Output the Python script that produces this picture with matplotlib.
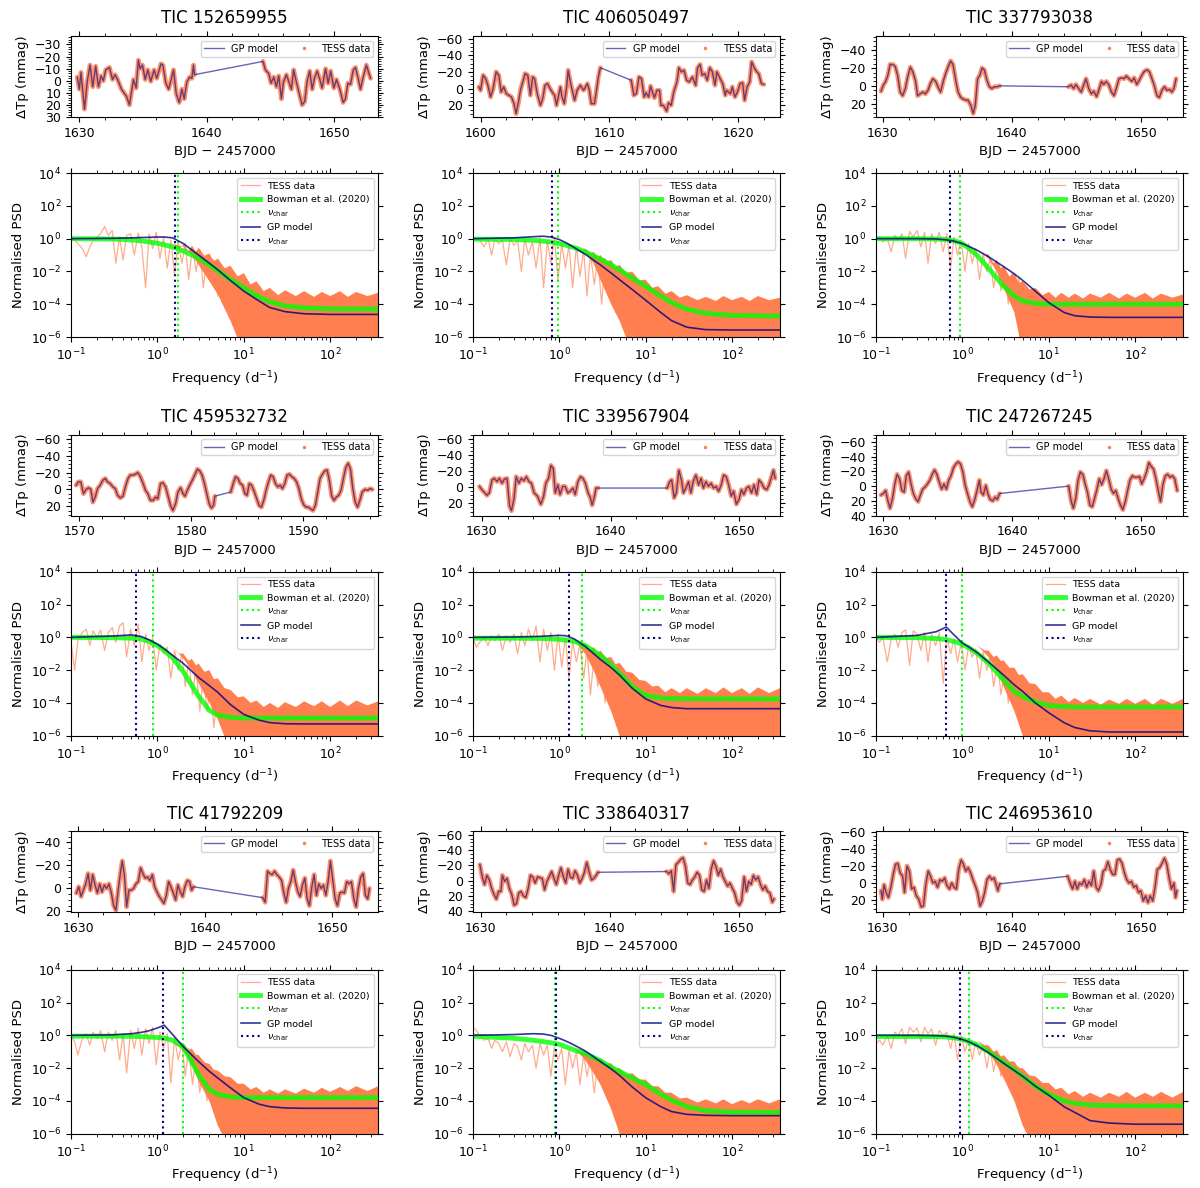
import numpy as np
import matplotlib.pyplot as plt
from matplotlib.lines import Line2D
from matplotlib.ticker import MultipleLocator, AutoMinorLocator, NullLocator

# ---------------- data ----------------
tic_names = ["TIC 152659955", "TIC 406050497", "TIC 337793038",
             "TIC 459532732", "TIC 339567904", "TIC 247267245",
             "TIC 41792209", "TIC 338640317", "TIC 246953610"]

# light curves: (BJD - 2457000, delta Tp in mmag)
lc_152659955 = [
    (1629.84, -3), (1630.0, 7), (1630.13, -7), (1630.4, 23.5), (1630.63, 0), (1630.84, -13), (1631.05, 5),
    (1631.28, -12), (1631.5, 5), (1631.7, -4), (1631.88, 0), (1632.07, -9), (1632.36, -11), (1632.6, -1),
    (1632.8, -5), (1633.0, -1), (1633.3, 7), (1633.7, 13), (1633.93, 20), (1634.24, -1), (1634.45, 6),
    (1634.63, -17), (1634.76, -10), (1634.95, -13), (1635.16, -1), (1635.37, -9), (1635.6, 0.5), (1635.86, -9),
    (1636.07, -2), (1636.4, -14), (1636.55, -13), (1636.78, 2), (1637.0, 7), (1637.2, -1), (1637.38, -9),
    (1637.6, 11), (1637.83, 18), (1638.04, 7), (1638.22, 15), (1638.43, 1), (1638.64, -3), (1638.82, -2),
    (1638.95, -13), (1639.03, -5),
    (1644.4, -16), (1644.58, -9), (1644.84, -6), (1645.03, 2), (1645.24, -3), (1645.45, 5), (1645.63, -4),
    (1645.84, 15), (1646.0, 1), (1646.23, -5), (1646.41, 0.5), (1646.62, 7), (1646.8, -9), (1647.0, 0.5),
    (1647.2, 9), (1647.46, 20), (1647.67, 17), (1647.85, 0.5), (1648.06, -8), (1648.25, 7), (1648.43, -2),
    (1648.64, -8), (1648.85, -1), (1649.03, 6), (1649.3, -10), (1649.5, 2), (1649.7, -8), (1649.95, 6),
    (1650.16, -1), (1650.42, 7), (1650.68, 18), (1650.86, 15), (1651.05, 2), (1651.26, 3), (1651.47, -9),
    (1651.65, -11), (1651.83, -3), (1652.04, 7), (1652.25, -3), (1652.5, -13), (1652.7, -6), (1652.83, -2)]

lc_406050497 = [
    (1599.87, -2), (1600.0, 2), (1600.2, -16), (1600.4, -12), (1600.57, -4), (1600.78, 10), (1600.98, 0),
    (1601.21, -20), (1601.42, -16), (1601.6, 4), (1601.8, -2), (1602.0, 6), (1602.2, 8), (1602.4, 10),
    (1602.6, 18), (1602.76, 30), (1602.95, 16), (1603.1, 2), (1603.46, -18), (1603.67, -16), (1603.87, 8),
    (1604.05, -14), (1604.2, -12), (1604.4, 6), (1604.65, 20), (1604.83, 12), (1605.0, -4), (1605.2, -6),
    (1605.4, 0), (1605.6, 5), (1605.75, 8), (1605.9, 20), (1606.2, -2), (1606.3, 8), (1606.5, 18),
    (1606.7, -4), (1606.8, -22), (1607.0, -6), (1607.3, 14), (1607.5, 2), (1607.75, -4), (1608.0, 2),
    (1608.3, -6), (1608.45, 2), (1608.6, 18), (1608.85, 18), (1609.0, 2), (1609.15, -14), (1609.3, -25),
    (1611.7, -10), (1611.9, 8), (1612.1, 6), (1612.3, -14), (1612.5, -12), (1612.7, 10), (1612.85, 5),
    (1613.05, 10), (1613.2, -3), (1613.5, 11), (1613.7, 2), (1613.9, 2), (1614.0, 20), (1614.2, 20),
    (1614.45, 27), (1614.6, 17), (1614.8, 20), (1615.0, 4), (1615.25, -8), (1615.4, -25), (1615.6, -20),
    (1615.8, -22), (1616.0, -10), (1616.2, -8), (1616.45, -14), (1616.7, -4), (1616.85, -25), (1617.05, -29),
    (1617.2, -16), (1617.4, -18), (1617.6, -10), (1617.8, -25), (1618.0, -20), (1618.2, -4), (1618.35, -20),
    (1618.6, -12), (1618.8, -6), (1619.0, 8), (1619.1, 2), (1619.4, 6), (1619.55, -2), (1619.75, 10),
    (1619.95, 4), (1620.15, -6), (1620.35, -7), (1620.5, 14), (1620.7, -2), (1620.9, -8), (1621.05, -32),
    (1621.25, -25), (1621.45, -20), (1621.6, -18), (1621.8, -6), (1622.0, -5)]

lc_337793038 = [
    (1629.87, 6), (1630.05, -1), (1630.23, -5), (1630.4, -12), (1630.57, -24), (1630.78, -24), (1630.96, -22),
    (1631.15, -12), (1631.35, 7), (1631.54, 11), (1631.75, 3), (1631.93, -10), (1632.14, -21), (1632.32, -16),
    (1632.53, -6), (1632.7, 11), (1632.9, 9), (1633.1, 7), (1633.3, 9), (1633.5, 5), (1633.7, -3),
    (1633.88, -8), (1634.1, -5), (1634.27, 1), (1634.48, 7), (1634.7, -6), (1634.87, -14), (1635.08, -22),
    (1635.26, -28), (1635.44, -24), (1635.65, -6), (1635.83, 7), (1636.04, 13), (1636.25, 15), (1636.43, 16),
    (1636.6, 16), (1636.82, 22), (1637.0, 31), (1637.16, 22), (1637.34, -8), (1637.52, -12), (1637.68, -20),
    (1637.86, -18), (1638.07, -6), (1638.25, 1), (1638.44, 3), (1638.65, 1), (1638.85, 1), (1639.04, 0),
    (1644.38, 1), (1644.58, -1), (1644.77, 3), (1644.95, -1.5), (1645.16, 3), (1645.36, 7), (1645.55, -1),
    (1645.73, -8), (1645.94, 3), (1646.15, 9), (1646.33, 6), (1646.54, 12), (1646.72, 5), (1646.93, -5),
    (1647.1, -1.5), (1647.3, -5), (1647.5, -1), (1647.7, 7), (1647.9, 11), (1648.07, 3), (1648.28, -8),
    (1648.5, -9), (1648.67, -8), (1648.85, -11), (1649.06, -8), (1649.27, -5), (1649.45, -9), (1649.66, -1.5),
    (1649.84, -6), (1650.05, -12), (1650.23, -16), (1650.44, -18), (1650.63, -16), (1650.83, -8), (1651.0, -1),
    (1651.22, 11), (1651.4, 13), (1651.6, 5), (1651.8, 1), (1652.0, 5), (1652.2, 4), (1652.37, 7),
    (1652.53, 3), (1652.7, -8)]

lc_459532732 = [
    (1569.7, -5), (1569.91, -9), (1570.12, -9), (1570.36, 5), (1570.6, 0), (1570.81, -2), (1571.02, 0),
    (1571.2, 15), (1571.41, 9), (1571.62, -1), (1571.86, -5), (1572.1, -11), (1572.31, -13), (1572.51, -9),
    (1572.75, -7), (1572.99, -3), (1573.2, -1), (1573.41, 7), (1573.65, 10), (1573.89, 8), (1574.1, -3),
    (1574.34, -13), (1574.55, -17), (1574.79, -17), (1575.0, -18), (1575.21, -20), (1575.45, -15), (1575.69, -7),
    (1575.9, 1), (1576.11, 5), (1576.35, 13), (1576.59, 13), (1576.8, 9), (1577.0, 11), (1577.25, -7),
    (1577.46, -8), (1577.7, -3), (1577.9, 7), (1578.14, 19), (1578.35, 25), (1578.59, 17), (1578.8, 3),
    (1579.04, -2), (1579.25, 5), (1579.43, 8), (1579.64, 1), (1579.85, -5), (1580.09, -11), (1580.3, -17),
    (1580.54, -24), (1580.75, -22), (1580.96, -17), (1581.17, -7), (1581.38, 5), (1581.59, 17), (1581.8, 22),
    (1581.98, 19), (1582.1, 8),
    (1583.53, 3), (1583.74, -7), (1583.95, -15), (1584.16, -13), (1584.37, -7), (1584.58, -5), (1584.79, 5),
    (1584.97, 7), (1585.18, -7), (1585.39, -5), (1585.63, 3), (1585.84, 11), (1586.05, 19), (1586.26, 21),
    (1586.47, 13), (1586.68, 1), (1586.89, -9), (1587.1, -17), (1587.31, -15), (1587.51, -7), (1587.72, -3),
    (1587.93, -5), (1588.14, -1), (1588.35, -7), (1588.56, -17), (1588.77, -18), (1588.98, -15), (1589.19, -13),
    (1589.4, -9), (1589.61, -1), (1589.82, 11), (1590.03, 18), (1590.24, 21), (1590.45, 21), (1590.66, 23),
    (1590.87, 25), (1591.08, 19), (1591.29, 3), (1591.5, -13), (1591.71, -18), (1591.92, -22), (1592.13, -23),
    (1592.34, -10), (1592.54, 8), (1592.75, 13), (1592.96, 9), (1593.17, 7), (1593.38, 1), (1593.59, -13),
    (1593.8, -26), (1594.01, -31), (1594.22, -24), (1594.43, -1), (1594.64, 15), (1594.85, 21), (1595.06, 13),
    (1595.27, 3), (1595.51, 0), (1595.75, 1), (1595.96, -1), (1596.17, 0)]

lc_339567904 = [
    (1629.82, -1), (1630.0, 3), (1630.18, 6), (1630.4, 10), (1630.58, 7), (1630.79, -9), (1630.97, -11),
    (1631.18, -7), (1631.36, -11), (1631.57, -5), (1631.75, -10), (1631.96, -11), (1632.15, 23), (1632.3, 29),
    (1632.49, 15), (1632.67, -13), (1632.88, -5), (1633.06, -11), (1633.27, -8), (1633.46, -13), (1633.66, -7),
    (1633.85, -5), (1634.06, 7), (1634.32, 11), (1634.58, 21), (1634.8, 11), (1634.97, -5), (1635.18, -11),
    (1635.37, -27), (1635.55, -23), (1635.7, 7), (1635.9, -3), (1636.07, 9), (1636.28, -1), (1636.47, -1),
    (1636.68, 7), (1636.86, 5), (1637.07, 1), (1637.25, 9), (1637.46, -7), (1637.67, -13), (1637.85, -11),
    (1638.04, -5), (1638.25, 7), (1638.43, 13), (1638.56, 22), (1638.72, 13), (1638.87, 1), (1639.03, 1),
    (1644.4, 1), (1644.58, -7), (1644.74, -9), (1644.93, 13), (1645.1, 7), (1645.3, -21), (1645.5, -9),
    (1645.65, 7), (1645.84, 1), (1646.05, -7), (1646.23, 7), (1646.41, -7), (1646.62, -15), (1646.83, -3),
    (1647.02, -11), (1647.2, 1), (1647.4, -7), (1647.6, -1), (1647.8, -5), (1647.98, 1), (1648.19, -1),
    (1648.38, 5), (1648.59, -3), (1648.77, -15), (1648.98, -13), (1649.16, -3), (1649.37, 11), (1649.55, 5),
    (1649.76, 21), (1649.97, 15), (1650.16, 3), (1650.34, 9), (1650.55, 1), (1650.73, -1), (1650.94, 7),
    (1651.13, -3), (1651.34, 9), (1651.52, -9), (1651.73, -5), (1651.91, 1), (1652.12, 3), (1652.3, -3),
    (1652.49, -13), (1652.64, -21), (1652.77, -11)]

lc_247267245 = [
    (1629.82, 12), (1630.0, 10), (1630.18, 6), (1630.37, 21), (1630.52, 30), (1630.71, 17), (1630.89, -3),
    (1631.07, -16), (1631.26, -10), (1631.44, 6), (1631.62, 8), (1631.78, -14), (1631.96, -19), (1632.15, -3),
    (1632.33, 10), (1632.51, 17), (1632.7, 21), (1632.88, 12), (1633.06, 4), (1633.25, 1), (1633.43, -3),
    (1633.61, -8), (1633.8, -16), (1633.98, -22), (1634.16, -16), (1634.35, -5), (1634.53, 4), (1634.71, -3),
    (1634.9, 4), (1635.08, -8), (1635.26, -14), (1635.45, -25), (1635.63, -30), (1635.81, -33), (1636.0, -30),
    (1636.18, -19), (1636.36, -1), (1636.54, 10), (1636.73, 21), (1636.91, 28), (1637.09, 19), (1637.28, 6),
    (1637.46, -8), (1637.59, 8), (1637.77, 12), (1637.96, -1), (1638.12, 10), (1638.3, 18), (1638.51, 20),
    (1638.69, 15), (1638.85, 18), (1639.03, 10),
    (1644.4, 0), (1644.58, 19), (1644.76, 30), (1644.95, 17), (1645.13, -8), (1645.31, -19), (1645.5, -16),
    (1645.68, -3), (1645.86, 8), (1646.05, 26), (1646.23, 28), (1646.41, 17), (1646.6, 4), (1646.78, -10),
    (1646.96, -2), (1647.15, -10), (1647.33, -21), (1647.51, -10), (1647.7, 4), (1647.88, 10), (1648.06, 6),
    (1648.25, 17), (1648.43, 26), (1648.61, 32), (1648.8, 21), (1648.98, 6), (1649.16, -8), (1649.35, -14),
    (1649.53, -12), (1649.71, -12), (1649.9, -13), (1650.08, -3), (1650.26, -10), (1650.45, -19), (1650.63, -32),
    (1650.81, -27), (1651.0, -23), (1651.18, -10), (1651.36, 6), (1651.54, 21), (1651.73, -3), (1651.91, -14),
    (1652.09, -16), (1652.28, -12), (1652.46, -14), (1652.64, -10), (1652.83, 6)]

lc_41792209 = [
    (1629.87, 4), (1630.05, -1.5), (1630.24, 7), (1630.42, 1.5), (1630.6, -4), (1630.79, -13), (1630.97, 1.5),
    (1631.15, -12), (1631.34, -3), (1631.52, 4), (1631.7, -4), (1631.88, 3), (1632.07, -3), (1632.25, 0),
    (1632.43, -4), (1632.62, 4), (1632.8, 15), (1632.98, 19), (1633.17, 0), (1633.35, -15), (1633.48, -24),
    (1633.64, -12), (1633.82, 16), (1634.0, 1.5), (1634.19, 1.5), (1634.37, 0), (1634.55, -4), (1634.74, -6),
    (1634.92, -18), (1635.1, -13), (1635.28, -9), (1635.47, -10), (1635.65, -7), (1635.84, -12), (1636.02, -1.5),
    (1636.2, 3), (1636.39, 7), (1636.57, 10), (1636.75, 13), (1636.94, 6), (1637.12, -6), (1637.3, -1.5),
    (1637.49, 4), (1637.67, 10), (1637.85, -3), (1638.04, 3), (1638.22, 7), (1638.4, -1.5), (1638.59, -7),
    (1638.77, -6), (1638.93, 1.5), (1639.06, -1.5),
    (1644.53, 8), (1644.71, 12), (1644.9, -15), (1645.08, -13), (1645.26, -12), (1645.45, -15), (1645.63, -12),
    (1645.81, -10), (1646.0, -7), (1646.18, 4), (1646.36, 12), (1646.54, 0), (1646.73, -6), (1646.91, -16),
    (1647.09, -6), (1647.28, 3), (1647.46, 7), (1647.64, -3), (1647.83, -9), (1648.01, 9), (1648.19, 15),
    (1648.38, -1.5), (1648.56, -12), (1648.74, 6), (1648.93, -4), (1649.11, 0), (1649.29, -3), (1649.48, 6),
    (1649.66, -6), (1649.84, -24), (1650.03, -7), (1650.21, 9), (1650.39, 15), (1650.58, 4), (1650.76, 3),
    (1650.94, 4), (1651.13, -6), (1651.31, -4), (1651.49, -6), (1651.68, 9), (1651.86, 16), (1652.04, 0),
    (1652.23, -10), (1652.41, -13), (1652.59, 6), (1652.77, 9), (1652.91, 0)]

lc_338640317 = [
    (1629.95, -21), (1630.13, -5), (1630.31, 5), (1630.49, -7), (1630.68, -1), (1630.86, 10), (1631.04, 18),
    (1631.22, 24), (1631.4, 14), (1631.58, 14), (1631.69, -7), (1631.87, 1), (1632.05, -3), (1632.23, 10),
    (1632.42, 18), (1632.6, 32), (1632.78, 30), (1632.96, 16), (1633.14, 14), (1633.32, 20), (1633.51, 22),
    (1633.69, 10), (1633.87, -7), (1634.05, -5), (1634.23, 3), (1634.42, -5), (1634.6, -4), (1634.78, -3),
    (1634.96, 12), (1635.14, 1), (1635.32, -5), (1635.51, -12), (1635.69, -3), (1635.87, 5), (1636.05, -7),
    (1636.23, -17), (1636.42, -5), (1636.6, 3), (1636.78, -15), (1636.96, -5), (1637.14, -3), (1637.32, -13),
    (1637.51, -7), (1637.69, 3), (1637.87, -3), (1638.05, -11), (1638.23, -24), (1638.42, -11), (1638.6, -1),
    (1638.78, -3), (1638.96, -7), (1639.09, -11),
    (1644.42, -12), (1644.6, -9), (1644.78, -13), (1644.96, 14), (1645.14, -21), (1645.32, -24), (1645.51, -28),
    (1645.69, -30), (1645.87, -19), (1646.05, 3), (1646.23, 5), (1646.42, -1), (1646.6, -5), (1646.78, -11),
    (1646.96, -7), (1647.14, 12), (1647.32, 14), (1647.51, -1), (1647.69, 10), (1647.87, -15), (1648.05, -26),
    (1648.23, -19), (1648.42, -7), (1648.6, -15), (1648.78, -5), (1648.96, 1), (1649.14, 7), (1649.32, 3),
    (1649.51, 10), (1649.69, 16), (1649.87, 28), (1650.05, 32), (1650.23, 26), (1650.42, -5), (1650.6, 14),
    (1650.78, 1), (1650.96, 5), (1651.14, -7), (1651.32, -1), (1651.51, -5), (1651.69, 5), (1651.87, 12),
    (1652.05, 7), (1652.23, 14), (1652.42, 16), (1652.6, 28), (1652.73, 24)]

lc_246953610 = [
    (1629.87, 9), (1629.97, 19), (1630.1, 2), (1630.26, 11), (1630.44, 17), (1630.63, 5), (1630.81, -10),
    (1630.99, -22), (1631.17, -23), (1631.35, -12), (1631.54, -8), (1631.69, 11), (1631.88, -20), (1632.06, -14),
    (1632.24, 7), (1632.42, 5), (1632.6, 15), (1632.79, 19), (1632.97, 28), (1633.15, 27), (1633.33, 2),
    (1633.52, -14), (1633.7, -8), (1633.88, 0), (1634.06, -2), (1634.24, 5), (1634.43, -4), (1634.61, -2),
    (1634.79, -6), (1634.97, 3), (1635.16, 7), (1635.34, 0), (1635.52, 5), (1635.7, 7), (1635.88, -16),
    (1636.07, -27), (1636.25, -22), (1636.43, -14), (1636.61, -18), (1636.8, -12), (1636.98, -4), (1637.16, 3),
    (1637.34, 11), (1637.53, 27), (1637.71, 21), (1637.89, 11), (1638.07, -4), (1638.26, -8), (1638.44, -4),
    (1638.62, -6), (1638.8, 3), (1638.91, 9), (1639.04, 1),
    (1644.32, -8), (1644.5, 0), (1644.69, 7), (1644.87, -2), (1645.05, 7), (1645.23, 0), (1645.42, 2),
    (1645.6, -4), (1645.78, 5), (1645.96, -2), (1646.15, 3), (1646.33, -14), (1646.51, 5), (1646.69, 9),
    (1646.88, 2), (1647.06, -14), (1647.24, -16), (1647.42, -25), (1647.6, -16), (1647.79, -10), (1647.97, -10),
    (1648.15, -27), (1648.33, -28), (1648.52, -23), (1648.7, -12), (1648.88, -4), (1649.06, 0), (1649.24, -2),
    (1649.43, 5), (1649.61, 3), (1649.79, 11), (1649.97, 9), (1650.16, 21), (1650.34, 15), (1650.52, 23),
    (1650.7, 15), (1650.89, 21), (1651.07, 5), (1651.25, -16), (1651.43, -18), (1651.61, -23), (1651.8, -29),
    (1651.98, -22), (1652.16, -6), (1652.34, 7), (1652.53, 0), (1652.66, 17), (1652.76, 9)]

light_curves = [lc_152659955, lc_406050497, lc_337793038,
                lc_459532732, lc_339567904, lc_247267245,
                lc_41792209, lc_338640317, lc_246953610]

# model PSDs, log10 of normalised power on a common frequency grid (d^-1)
model_freq = [0.1, 0.3, 0.5, 0.65, 0.8, 1, 1.2, 1.5, 2, 3, 4, 5, 7, 10, 15, 20, 30, 50, 100, 360]
bowman_log = [
    [0, -0.02, -0.08, -0.13, -0.2, -0.28, -0.37, -0.5, -0.75, -1.2, -1.6, -1.95, -2.5, -3.0, -3.55, -3.85, -4.1, -4.22, -4.28, -4.3],
    [-0.03, -0.05, -0.1, -0.15, -0.2, -0.3, -0.4, -0.55, -0.8, -1.25, -1.6, -1.9, -2.4, -2.9, -3.5, -3.9, -4.3, -4.55, -4.68, -4.72],
    [0, 0, -0.02, -0.05, -0.12, -0.3, -0.6, -1.05, -1.8, -2.9, -3.5, -3.8, -3.95, -4.0, -4.0, -4.0, -4.0, -4.0, -4.0, -4.0],
    [0, -0.02, -0.05, -0.1, -0.25, -0.5, -0.8, -1.25, -2.1, -3.6, -4.45, -4.75, -4.88, -4.92, -4.92, -4.92, -4.92, -4.92, -4.92, -4.92],
    [-0.05, -0.05, -0.06, -0.07, -0.09, -0.12, -0.17, -0.25, -0.5, -1.1, -1.7, -2.2, -3.0, -3.55, -3.7, -3.74, -3.75, -3.75, -3.75, -3.75],
    [0, -0.02, -0.07, -0.14, -0.25, -0.42, -0.65, -1.0, -1.55, -2.6, -3.3, -3.6, -3.95, -4.15, -4.22, -4.25, -4.25, -4.25, -4.25, -4.25],
    [-0.05, -0.05, -0.06, -0.08, -0.1, -0.13, -0.17, -0.3, -0.7, -2.4, -3.3, -3.6, -3.75, -3.8, -3.8, -3.8, -3.8, -3.8, -3.8, -3.8],
    [-0.05, -0.18, -0.3, -0.38, -0.45, -0.55, -0.7, -0.9, -1.1, -1.55, -1.95, -2.2, -2.6, -3.0, -3.6, -3.95, -4.35, -4.6, -4.68, -4.7],
    [-0.07, -0.07, -0.08, -0.1, -0.15, -0.25, -0.38, -0.6, -1.0, -1.65, -2.1, -2.5, -3.1, -3.6, -4.0, -4.15, -4.25, -4.28, -4.3, -4.3]]
gp_log = [
    [0, 0.02, 0.05, 0.07, 0.08, 0.1, 0.1, 0.05, -0.3, -1.0, -1.5, -1.9, -2.55, -3.2, -3.8, -4.2, -4.45, -4.58, -4.62, -4.62],
    [0, 0.05, 0.12, 0.15, 0.1, -0.05, -0.25, -0.55, -0.95, -1.6, -2.1, -2.5, -3.1, -3.75, -4.5, -5.0, -5.4, -5.55, -5.57, -5.57],
    [0, 0, -0.02, -0.07, -0.15, -0.3, -0.48, -0.72, -1.1, -1.7, -2.15, -2.55, -3.2, -3.9, -4.5, -4.7, -4.78, -4.8, -4.8, -4.8],
    [0, 0.08, 0.15, 0.05, -0.15, -0.42, -0.7, -1.1, -1.6, -2.45, -2.95, -3.35, -4.1, -4.7, -5.05, -5.2, -5.27, -5.28, -5.28, -5.28],
    [0, 0.02, 0.05, 0.07, 0.1, 0.12, 0.1, -0.1, -0.55, -1.35, -1.85, -2.3, -3.1, -3.75, -4.15, -4.28, -4.35, -4.35, -4.35, -4.35],
    [0, 0.12, 0.35, 0.63, 0.15, -0.35, -0.6, -0.95, -1.5, -2.3, -2.9, -3.3, -4.0, -4.6, -5.2, -5.5, -5.7, -5.77, -5.77, -5.77],
    [0, 0.03, 0.1, 0.18, 0.28, 0.45, 0.62, 0.05, -0.7, -1.6, -2.2, -2.6, -3.2, -3.8, -4.2, -4.35, -4.43, -4.45, -4.45, -4.45],
    [0, 0.05, 0.1, 0.08, 0.0, -0.18, -0.35, -0.6, -0.95, -1.6, -2.05, -2.45, -3.15, -3.8, -4.35, -4.65, -4.82, -4.88, -4.9, -4.9],
    [0, 0, -0.02, -0.05, -0.12, -0.25, -0.4, -0.65, -1.05, -1.7, -2.15, -2.5, -3.1, -3.65, -4.35, -4.7, -5.2, -5.35, -5.42, -5.42]]
nu_char_bowman = [1.75, 0.96, 0.94, 0.90, 1.86, 1.0, 1.98, 0.90, 1.2]
nu_char_gp = [1.58, 0.82, 0.71, 0.57, 1.31, 0.65, 1.16, 0.93, 0.94]

# periodogram: low-frequency peaks/troughs (log10) ...
spike_freq = [0.10, 0.11, 0.12, 0.135, 0.15, 0.165, 0.18, 0.2, 0.22, 0.245, 0.27, 0.3, 0.33, 0.365,
              0.4, 0.44, 0.49, 0.54, 0.6, 0.66, 0.73, 0.8, 0.88, 0.97, 1.07, 1.18, 1.3, 1.43, 1.58,
              1.74, 1.92, 2.1, 2.3, 2.55, 2.8, 3.1, 3.4, 3.75, 4.1, 4.5, 5.0]
spike_log = [
    [0.0, -0.1, -0.3, -0.6, -1.1, -0.5, -0.1, 0.1, 0.3, 0.75, 0.2, 0.5, -1.5, 0.1, -1.3, 0.2, 0.3, -1.0, 0.35, -0.5, -3.0,
     0.3, -0.6, 0.4, -1.2, 0.1, -1.8, -0.1, -2.2, -0.2, -1.5, -0.3, -2.5, -0.5, -2.0, -0.7, -3.0, -1.0, -2.5, -1.3, -3.5],
    [0.0, 0.0, -0.1, -0.5, 0.0, -1.0, -0.05, -0.3, -0.1, -1.6, 0.0, -0.4, -0.1, -2.0, 0.0, -1.0, -0.2, -1.8, 0.05, -3.0,
     -0.1, -1.5, 0.1, -2.5, -0.3, -1.8, -0.4, -3.0, -0.5, -2.3, -0.7, -3.5, -0.9, -2.8, -1.1, -4.0, -1.2, -3.5, -1.5, -4.5, -1.7],
    [0.0, 0.1, -0.2, 0.0, -0.8, 0.2, -0.1, 0.3, -1.2, 0.45, 0.1, 0.5, -0.5, 0.4, -1.5, 0.3, -0.3, 0.4, -0.8, 0.3, -1.8,
     0.1, -1.0, -0.1, -2.0, -0.3, -1.5, -0.6, -2.5, -0.9, -2.0, -1.2, -3.0, -1.5, -3.2, -1.8, -4.0, -2.1, -3.5, -2.4, -4.5],
    [-0.3, -2.0, -0.2, 0.3, 0.5, -0.5, 0.4, 0.0, 0.45, -0.8, 0.3, 0.6, -0.3, 0.7, 0.9, -1.2, 0.5, -0.5, 0.8, -1.5, 0.2,
     -0.8, 0.0, -2.0, -0.4, -1.0, -0.6, -2.5, -0.8, -2.0, -1.0, -3.0, -1.4, -3.5, -1.8, -4.5, -2.3, -4.5, -2.8, -5.5, -3.2],
    [0.0, -0.6, -0.3, 0.0, -0.5, 0.1, -0.2, 0.2, -0.8, 0.1, -0.3, 0.2, -1.0, 0.3, -0.5, 0.5, -0.2, 0.7, -1.5, 0.5, -0.8,
     0.3, -2.0, 0.2, -1.8, 0.0, -2.5, -0.2, -1.5, -0.4, -2.5, -0.7, -3.5, -1.0, -3.0, -1.3, -4.0, -1.7, -4.5, -2.0, -5.0],
    [0.0, -0.3, 0.0, -1.5, -0.1, 0.2, -0.6, 0.3, 0.45, -1.7, 0.4, 0.2, -0.8, 0.3, -1.5, 0.2, -0.5, 0.3, -2.8, 0.0, -1.0,
     -0.1, -1.5, -0.3, -2.0, -0.5, -1.2, -0.7, -2.5, -0.9, -2.0, -1.2, -3.0, -1.5, -3.5, -1.9, -4.0, -2.3, -4.5, -2.6, -5.0],
    [0.0, -0.4, -1.2, -0.2, 0.1, -0.6, 0.2, -0.2, 0.3, -1.0, 0.2, -0.3, 0.3, -1.5, 0.1, -2.3, 0.3, -0.8, 0.45, -1.2, 0.4,
     -0.5, 0.5, -1.8, 0.2, -0.8, 0.1, -2.9, -0.1, -1.5, -0.5, -2.5, -0.8, -3.0, -1.2, -3.5, -1.6, -4.0, -2.0, -4.5, -2.4],
    [0.5, 0.3, 0.0, -0.3, -0.2, -0.8, -0.3, -0.5, -1.0, -0.4, -1.3, -0.5, -0.7, -1.5, -0.5, -1.0, -0.6, -2.0, -0.5, -1.2,
     -0.6, -2.5, -0.7, -1.5, -0.8, -3.0, -0.9, -2.0, -1.0, -3.0, -1.2, -2.5, -1.4, -3.5, -1.6, -3.0, -1.8, -4.0, -2.1, -4.5, -2.3],
    [-0.5, -0.3, -0.6, 0.0, -0.8, 0.2, 0.0, 0.4, -0.5, 0.5, 0.2, 0.45, -0.4, 0.5, 0.1, 0.4, -0.6, 0.3, 0.0, 0.2, -0.8,
     0.1, -1.5, 0.0, -1.0, -0.2, -1.5, -0.4, -1.2, -0.6, -2.0, -0.8, -2.2, -1.0, -2.5, -1.3, -3.0, -1.6, -3.5, -1.9, -4.0]]

# ... and the dense high-frequency noise band: ragged upper edge and lower edge (log10)
band_hi_freq = [1.5, 1.8, 2, 2.3, 2.5, 2.8, 3, 3.5, 4, 4.5, 5, 6, 7, 8.5, 10, 12, 14, 17, 20, 25,
                30, 40, 50, 65, 80, 100, 130, 160, 200, 270, 360]
band_hi = [
    [-0.3, -0.6, -0.35, -0.75, -0.45, -0.8, -0.55, -1.05, -0.9, -1.4, -1.2, -1.8, -1.65, -2.3, -2.1, -2.8,
     -2.6, -3.2, -3.0, -3.45, -3.15, -3.5, -3.2, -3.55, -3.25, -3.5, -3.2, -3.55, -3.25, -3.5, -3.3],
    [-0.5, -0.8, -0.6, -0.95, -0.8, -1.15, -1.0, -1.4, -1.3, -1.75, -1.6, -2.1, -2.0, -2.55, -2.5, -3.0,
     -2.9, -3.35, -3.2, -3.6, -3.45, -3.75, -3.55, -3.8, -3.5, -3.75, -3.55, -3.8, -3.5, -3.75, -3.6],
    [-0.6, -1.0, -0.95, -1.5, -1.3, -1.8, -1.65, -2.3, -2.1, -2.7, -2.6, -3.1, -3.0, -3.45, -3.25, -3.6,
     -3.3, -3.6, -3.35, -3.65, -3.35, -3.6, -3.3, -3.65, -3.35, -3.6, -3.3, -3.65, -3.35, -3.6, -3.4],
    [-0.6, -1.0, -1.0, -1.45, -1.3, -1.7, -1.6, -2.1, -2.0, -2.55, -2.5, -3.1, -3.2, -3.65, -3.6, -4.0,
     -3.85, -4.25, -4.0, -4.3, -3.95, -4.25, -3.9, -4.2, -3.9, -4.25, -3.85, -4.2, -3.85, -4.15, -3.9],
    [-0.2, -0.5, -0.4, -0.75, -0.6, -0.95, -0.8, -1.25, -1.2, -1.65, -1.55, -2.1, -2.15, -2.6, -2.65, -3.0,
     -2.95, -3.35, -3.1, -3.4, -3.1, -3.45, -3.1, -3.4, -3.05, -3.4, -3.1, -3.45, -3.05, -3.4, -3.1],
    [-0.5, -0.8, -0.8, -1.2, -1.1, -1.45, -1.4, -1.85, -1.85, -2.3, -2.25, -2.8, -2.85, -3.35, -3.35, -3.75,
     -3.55, -3.95, -3.7, -4.0, -3.75, -4.1, -3.8, -4.05, -3.75, -4.05, -3.75, -4.1, -3.75, -4.05, -3.75],
    [-0.4, -0.6, -0.5, -0.9, -0.8, -1.2, -1.2, -1.65, -1.75, -2.1, -2.15, -2.5, -2.55, -2.95, -2.95, -3.3,
     -3.15, -3.5, -3.3, -3.55, -3.3, -3.55, -3.25, -3.5, -3.2, -3.45, -3.15, -3.4, -3.1, -3.4, -3.1],
    [-0.8, -1.0, -1.0, -1.3, -1.2, -1.5, -1.4, -1.75, -1.7, -2.05, -2.0, -2.4, -2.3, -2.7, -2.7, -3.1,
     -3.1, -3.5, -3.5, -3.85, -3.8, -4.1, -3.9, -4.15, -3.9, -4.2, -3.95, -4.15, -3.9, -4.15, -3.9],
    [-0.3, -0.6, -0.6, -1.0, -0.9, -1.3, -1.2, -1.6, -1.6, -2.0, -2.0, -2.45, -2.5, -2.9, -2.9, -3.3,
     -3.2, -3.6, -3.4, -3.75, -3.5, -3.8, -3.5, -3.75, -3.45, -3.8, -3.5, -3.75, -3.45, -3.8, -3.45]]
band_lo_freq = [1.5, 2, 2.5, 3, 4, 5, 7, 10, 14, 20, 30, 50, 80, 130, 200, 360]
band_lo = [
    [-0.3, -0.5, -1.0, -1.6, -2.6, -3.4, -5.0, -7, -7, -7, -7, -7, -7, -7, -7, -7],
    [-0.5, -0.8, -1.5, -2.5, -4.0, -5.0, -7, -7, -7, -7, -7, -7, -7, -7, -7, -7],
    [-0.6, -1.2, -2.0, -3.0, -4.5, -7, -7, -7, -7, -7, -7, -7, -7, -7, -7, -7],
    [-0.6, -1.3, -2.0, -2.8, -4.0, -5.0, -7, -7, -7, -7, -7, -7, -7, -7, -7, -7],
    [-0.2, -1.0, -2.0, -3.0, -4.5, -6, -7, -7, -7, -7, -7, -7, -7, -7, -7, -7],
    [-0.5, -1.2, -2.0, -3.0, -4.5, -6, -7, -7, -7, -7, -7, -7, -7, -7, -7, -7],
    [-0.4, -0.9, -1.8, -2.8, -4.0, -5.5, -7, -7, -7, -7, -7, -7, -7, -7, -7, -7],
    [-0.8, -1.5, -2.3, -3.0, -4.5, -6, -7, -7, -7, -7, -7, -7, -7, -7, -7, -7],
    [-0.3, -1.0, -1.8, -2.6, -4.0, -5.5, -7, -7, -7, -7, -7, -7, -7, -7, -7, -7]]

# axis ranges of the light-curve panels
lc_xlim = [(1629.35, 1653.43), (1599.4, 1623.25), (1629.48, 1653.25),
           (1569.25, 1596.7), (1629.3, 1653.15), (1629.43, 1653.3),
           (1629.45, 1653.6), (1629.4, 1653.2), (1629.48, 1653.25)]
lc_ylim = [(30, -37), (34, -63), (35, -56), (31, -65), (35, -65), (40, -70),
           (20.5, -50), (41, -65), (34, -61)]
lc_ystep = [10, 20, 20, 20, 20, 20, 20, 20, 20]

# ---------------- figure ----------------
fig = plt.figure(figsize=(12, 11.88), dpi=100)

col_left = [0.0592, 0.394, 0.730]
lc_bottom = [0.9015, 0.566, 0.2323]
psd_bottom = [0.7163, 0.3807, 0.0457]
width, h_lc, h_psd = 0.256, 0.0682, 0.138


def fit(x, y):
    n = min(len(x), len(y))
    return np.asarray(x[:n], float), np.asarray(y[:n], float)


for i in range(9):
    r, c = divmod(i, 3)

    # light curve
    ax = fig.add_axes([col_left[c], lc_bottom[r], width, h_lc])
    pts = np.array(light_curves[i], float)
    t, dm = pts[:, 0], pts[:, 1]
    cut = np.argmax(np.diff(t)) + 1
    for seg in (slice(0, cut), slice(cut, None)):
        ax.plot(t[seg], dm[seg], color='coral', lw=3.4, alpha=0.85,
                solid_capstyle='round', solid_joinstyle='round', zorder=1)
    ax.plot(t, dm, color='navy', lw=1.0, alpha=0.6, zorder=2)
    ax.set_xlim(*lc_xlim[i])
    ax.set_ylim(*lc_ylim[i])
    ax.xaxis.set_major_locator(MultipleLocator(10))
    ax.xaxis.set_minor_locator(AutoMinorLocator())
    ax.yaxis.set_major_locator(MultipleLocator(lc_ystep[i]))
    ax.yaxis.set_minor_locator(AutoMinorLocator())
    ax.tick_params(which='both', direction='out', top=True, right=True, labelsize=9)
    ax.set_xlabel('BJD \u2212 2457000', fontsize=9.5)
    ax.set_ylabel('\u0394Tp (mmag)', fontsize=9.5)
    ax.set_title(tic_names[i], fontsize=12, pad=9)
    handles = [Line2D([], [], color='navy', alpha=0.6, lw=1.0),
               Line2D([], [], ls='none', marker='.', ms=3, color='coral')]
    ax.legend(handles, ['GP model', 'TESS data'], ncol=2, loc='upper right',
              fontsize=7, columnspacing=1.6, borderpad=0.3, handletextpad=0.8,
              borderaxespad=0.5)

    # power density spectrum
    ax2 = fig.add_axes([col_left[c], psd_bottom[r], width, h_psd])
    hf, hv = fit(band_hi_freq, band_hi[i])
    lf, lv = fit(band_lo_freq, band_lo[i])
    ax2.fill(np.concatenate([hf, lf[::-1]]), np.concatenate([10 ** hv, 10 ** lv[::-1]]),
             color='coral', lw=0, zorder=1)
    sf, sv = fit(spike_freq, spike_log[i])
    ax2.plot(sf, 10 ** sv, color='coral', lw=0.9, alpha=0.65, zorder=1.5, label='TESS data')
    mf, bw = fit(model_freq, bowman_log[i])
    ax2.plot(mf, 10 ** bw, color='lime', lw=3.5, alpha=0.8, zorder=2, label='Bowman et al. (2020)')
    ax2.axvline(nu_char_bowman[i], color='lime', ls=':', lw=1.5, zorder=2.5, label=r'$\nu_{\rm char}$')
    mf, gp = fit(model_freq, gp_log[i])
    ax2.plot(mf, 10 ** gp, color='navy', lw=1.2, alpha=0.8, zorder=3, label='GP model')
    ax2.axvline(nu_char_gp[i], color='navy', ls=':', lw=1.5, zorder=3.5, label=r'$\nu_{\rm char}$')
    ax2.set_xscale('log')
    ax2.set_yscale('log')
    ax2.set_xlim(0.1, 360)
    ax2.set_ylim(1e-6, 1e4)
    ax2.set_yticks([1e-6, 1e-4, 1e-2, 1e0, 1e2, 1e4])
    ax2.yaxis.set_minor_locator(NullLocator())
    ax2.tick_params(which='both', direction='out', top=True, right=True, labelsize=9)
    ax2.set_xlabel('Frequency (d$^{-1}$)', fontsize=9.5)
    ax2.set_ylabel('Normalised PSD', fontsize=9.5)
    ax2.legend(loc='upper right', fontsize=6.8, borderaxespad=0.5, labelspacing=0.45)

fig.savefig('out.png', dpi=100)
